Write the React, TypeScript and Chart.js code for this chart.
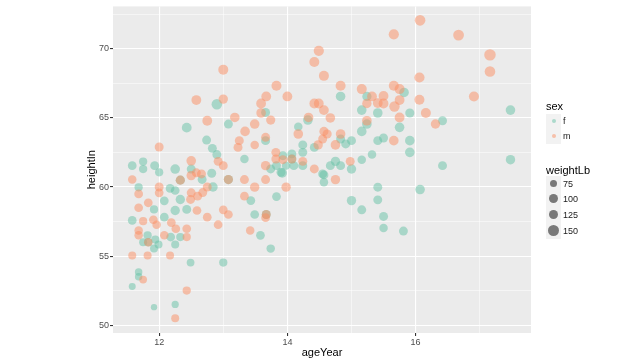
import React, { useEffect, useRef } from "react";
import { Chart, registerables } from "chart.js";

Chart.register(...registerables);

// ---- data ----
const fAge = [
  12.9, 12.43, 12.74, 12.83, 12.9, 11.58, 11.75, 11.75, 11.93, 12.0, 12.25, 12.5, 12.67, 12.82, 12.33,
  11.68, 12.17, 12.25, 12.08, 12.33, 12.84, 11.92, 12.25, 12.43, 11.58, 12.08, 11.82, 12.18, 12.33, 11.75,
  11.83, 11.94, 11.99, 11.92, 12.25, 12.49, 11.68, 11.68, 11.58, 11.92, 12.25,
  13.66, 13.08, 14.17, 14.32, 13.66, 14.24, 14.42, 14.24, 13.33, 13.93, 14.07, 14.07, 14.24, 14.1,
  13.74, 13.83, 13.98, 14.55, 13.9, 13.08, 13.92, 14.57, 14.57, 13.43, 13.83, 13.49, 13.67, 13.58, 13.74, 13.0,
  14.83, 15.82, 15.24, 15.16, 15.41, 15.91, 15.24, 15.16, 15.75, 14.83, 14.91, 15.0, 15.41, 15.5, 15.91,
  15.91, 15.32, 15.16, 14.75, 14.67, 14.83, 15.0, 15.41, 16.07, 15.0, 15.41, 15.16, 15.5, 15.5, 15.81,
  16.42, 17.48, 16.42, 17.48,
];
const fHeight = [
  66.0, 64.3, 63.4, 62.8, 62.35, 61.55, 61.84, 61.3, 61.55, 61.07, 61.3, 61.3, 60.55, 61.0, 60.5,
  59.98, 59.9, 59.75, 59.0, 59.1, 60.0, 58.38, 58.3, 58.38, 57.58, 57.82, 56.5, 56.38, 56.38, 56.0,
  56.0, 56.2, 55.83, 55.54, 55.83, 54.53, 53.85, 53.5, 52.8, 51.3, 51.5,
  65.4, 64.56, 64.37, 64.85, 63.36, 63.05, 62.87, 62.51, 62.03, 62.27, 62.4, 62.03, 61.55, 61.55,
  61.31, 61.55, 61.55, 60.95, 61.07, 60.54, 61.02, 60.88, 60.35, 59.02, 59.31, 58.01, 58.01, 56.5, 55.54, 54.53,
  66.56, 66.85, 66.56, 65.57, 65.36, 65.36, 64.56, 64.03, 64.32, 63.48, 63.12, 63.36, 63.36, 63.55, 63.36,
  62.51, 62.35, 61.98, 61.86, 61.55, 61.55, 61.31, 59.99, 59.82, 59.02, 59.07, 58.35, 57.87, 57.03, 56.81,
  61.55, 65.57, 64.8, 61.98,
];
const fWeight = [
  140, 120, 100, 100, 100, 95, 85, 85, 100, 85, 115, 100, 100, 100, 105,
  85, 95, 95, 95, 110, 110, 85, 110, 100, 95, 95, 85, 95, 85, 80,
  85, 85, 80, 80, 80, 75, 70, 70, 60, 50, 65,
  100, 100, 90, 115, 100, 100, 100, 100, 90, 100, 100, 100, 100, 100,
  100, 100, 90, 100, 100, 105, 110, 100, 90, 95, 95, 95, 100, 95, 90, 85,
  115, 115, 105, 115, 115, 105, 115, 115, 115, 100, 100, 100, 100, 100, 115,
  115, 90, 90, 110, 100, 100, 110, 100, 115, 110, 100, 100, 100, 90, 100,
  100, 115, 100, 110,
];

const mAge = [
  13.0, 12.58, 12.75, 12.0, 12.92, 12.5, 12.58, 12.5, 12.66, 11.58, 12.33, 12.0, 12.0, 11.68, 12.5,
  12.49, 12.6, 12.68, 12.75, 11.83, 11.68, 12.59, 12.75, 12.92, 11.75, 11.91, 11.96, 12.19, 12.26, 12.43,
  11.68, 11.68, 12.08, 12.43, 11.83, 11.58, 11.82, 12.17, 11.75, 12.43, 12.25,
  14.49, 14.42, 14.57, 13.83, 14.0, 13.67, 13.59, 14.42, 14.49, 14.57, 13.0, 13.59, 13.74, 13.18, 13.49,
  13.34, 14.33, 14.17, 14.57, 14.62, 13.25, 13.23, 13.49, 13.66, 14.48, 14.55, 13.82, 13.82, 14.07, 13.93,
  14.24, 13.66, 14.42, 13.0, 13.08, 13.33, 13.66, 13.49, 13.98, 13.33, 13.0, 13.08, 13.67, 13.66, 13.42,
  16.07, 15.66, 14.83, 15.16, 15.66, 15.75, 16.06, 15.32, 15.5, 15.41, 15.24, 15.5, 15.67, 15.75, 16.06,
  16.16, 15.75, 14.67, 15.24, 16.31, 14.83, 14.75, 15.66, 14.98, 14.75, 16.67, 17.16, 17.16, 16.91,
];
const mHeight = [
  68.5, 66.3, 64.8, 62.9, 61.86, 61.9, 61.03, 60.83, 60.95, 60.54, 60.5, 60.0, 59.58, 59.5, 59.58,
  59.1, 59.34, 59.6, 60.0, 58.86, 58.5, 58.3, 57.82, 57.27, 57.53, 57.63, 57.27, 57.42, 56.98, 56.98,
  56.86, 56.5, 56.5, 56.38, 56.0, 55.05, 55.05, 55.05, 53.3, 52.5, 50.5,
  69.86, 69.06, 68.05, 67.33, 66.56, 66.56, 66.05, 66.05, 66.05, 65.57, 66.37, 65.36, 64.85, 65.04, 64.56,
  64.03, 65.04, 63.84, 64.03, 63.84, 63.36, 62.87, 63.05, 63.6, 63.05, 63.48, 62.51, 62.03, 62.03, 61.98,
  61.86, 61.55, 61.31, 61.55, 60.54, 60.54, 60.54, 59.99, 59.99, 59.34, 58.35, 58.01, 58.01, 57.78, 56.86,
  72.07, 71.06, 67.33, 67.09, 67.33, 67.09, 67.93, 66.56, 66.6, 66.08, 66.05, 66.05, 65.83, 66.3, 66.32,
  65.36, 65.04, 65.0, 64.8, 64.56, 63.84, 63.05, 63.36, 61.86, 60.54, 71.0, 69.57, 68.36, 66.56,
];
const mWeight = [
  125, 120, 120, 100, 100, 115, 100, 110, 100, 90, 105, 100, 95, 95, 100,
  100, 100, 100, 100, 95, 95, 95, 95, 95, 85, 95, 90, 95, 95, 95,
  90, 90, 90, 85, 90, 80, 80, 80, 75, 85, 80,
  130, 125, 125, 125, 120, 120, 120, 120, 120, 120, 110, 115, 105, 115, 115,
  115, 115, 115, 105, 105, 100, 100, 90, 100, 110, 100, 100, 100, 100, 100,
  100, 110, 100, 100, 105, 100, 100, 110, 110, 95, 95, 95, 100, 95, 90,
  140, 130, 125, 125, 125, 125, 130, 120, 120, 120, 110, 120, 135, 120, 125,
  125, 120, 115, 115, 110, 115, 115, 115, 100, 110, 145, 165, 140, 125,
];

const xTicks = [12, 13, 14, 15, 16, 17];
const yTicks = [50, 52.5, 55, 57.5, 60, 62.5, 65, 67.5, 70, 72.5];
const sexLabels = ["f", "m"];
const sizeBreaks = [75, 100, 125, 150];

const COL_F = "rgba(102,194,165,0.5)";
const COL_M = "rgba(252,141,98,0.5)";
const FONT = "'Liberation Sans', Arial, Helvetica, sans-serif";
const rOf = (w: number) => 0.447 * Math.sqrt(w);

const bgPlugin = {
  id: "panelBg",
  beforeDraw(chart: any) {
    const { ctx, chartArea } = chart;
    ctx.save();
    ctx.fillStyle = "#EBEBEB";
    ctx.fillRect(chartArea.left, chartArea.top, chartArea.right - chartArea.left, chartArea.bottom - chartArea.top);
    ctx.restore();
  },
};

function build(ages: number[], hs: number[], ws: number[]) {
  return ages.map((a, i) => ({ x: a, y: hs[i], r: rOf(ws[i]) }));
}

export default function App() {
  const ref = useRef<HTMLCanvasElement | null>(null);
  useEffect(() => {
    if (!ref.current) return;
    const isMajorX = (v: number) => v % 2 === 0;
    const isMajorY = (v: number) => v % 5 === 0;
    const chart = new Chart(ref.current, {
      type: "bubble",
      data: {
        datasets: [
          { label: "m", data: build(mAge, mHeight, mWeight), backgroundColor: COL_M, borderWidth: 0, order: 0 } as any,
          { label: "f", data: build(fAge, fHeight, fWeight), backgroundColor: COL_F, borderWidth: 0, order: 1 } as any,
        ],
      },
      options: {
        responsive: false,
        animation: false,
        events: [],
        layout: { padding: { left: 0, right: 109, top: 5, bottom: 0 } },
        plugins: { legend: { display: false }, tooltip: { enabled: false } },
        scales: {
          x: {
            type: "linear",
            min: 11.28,
            max: 17.8,
            border: { display: false },
            afterBuildTicks: (s: any) => { s.ticks = xTicks.map((v) => ({ value: v })); },
            afterFit: (s: any) => { s.height = 27; },
            grid: {
              color: "#FFFFFF",
              lineWidth: (c: any) => (isMajorX(c.tick.value) ? 1.1 : 0.5),
              tickColor: (c: any) => (isMajorX(c.tick.value) ? "#333333" : "rgba(0,0,0,0)"),
              tickLength: 3,
            },
            ticks: {
              callback: (v: any) => (isMajorX(Number(v)) ? String(v) : ""),
              color: "#4D4D4D",
              font: { family: FONT, size: 9 },
              padding: 1,
              maxRotation: 0,
              autoSkip: false,
            },
            title: {
              display: true,
              text: "ageYear",
              color: "#000000",
              font: { family: FONT, size: 11 },
              padding: { top: 0, bottom: 0.5 },
            },
          },
          y: {
            type: "linear",
            min: 49.43,
            max: 73.08,
            border: { display: false },
            afterBuildTicks: (s: any) => { s.ticks = yTicks.map((v) => ({ value: v })); },
            afterFit: (s: any) => { s.width = 113; },
            grid: {
              color: "#FFFFFF",
              lineWidth: (c: any) => (isMajorY(c.tick.value) ? 1.1 : 0.5),
              tickColor: (c: any) => (isMajorY(c.tick.value) ? "#333333" : "rgba(0,0,0,0)"),
              tickLength: 3,
            },
            ticks: {
              callback: (v: any) => (isMajorY(Number(v)) ? String(v) : ""),
              color: "#4D4D4D",
              font: { family: FONT, size: 9 },
              padding: 1,
              autoSkip: false,
            },
            title: {
              display: true,
              text: "heightIn",
              color: "#000000",
              font: { family: FONT, size: 11 },
              padding: { top: 85, bottom: 0 },
            },
          },
        },
      } as any,
      plugins: [bgPlugin],
    });
    return () => chart.destroy();
  }, []);

  const keyBox = (top: number, h: number): React.CSSProperties => ({
    position: "absolute", left: 546, top, width: 15, height: h, background: "#F2F2F2",
  });
  const dot = (cx: number, cy: number, r: number, color: string): React.CSSProperties => ({
    position: "absolute", left: cx - r, top: cy - r, width: r * 2, height: r * 2, borderRadius: "50%", background: color,
  });
  const label = (top: number): React.CSSProperties => ({
    position: "absolute", left: 563, top: top - 6, height: 12, lineHeight: "12px", fontSize: 9, color: "#1A1A1A", fontFamily: FONT,
  });
  const sexY = [121, 136];
  const sizeY = [183.5, 198.5, 214.5, 230.5];
  const sizeKeyTop = [176, 191, 206, 222];
  const sizeKeyH = [15, 15, 16, 17];

  return (
    <div style={{ position: "fixed", left: 0, top: 0, width: 640, height: 360, background: "#FFFFFF" }}>
      <canvas ref={ref} width={640} height={360} style={{ position: "absolute", left: 0, top: 0 }} />
      <div style={{ position: "absolute", left: 546, top: 100, fontSize: 11, lineHeight: "13px", fontFamily: FONT, color: "#000" }}>sex</div>
      {sexLabels.map((s, i) => (
        <React.Fragment key={s}>
          <div style={keyBox(sexY[i] - 7.5, 15)} />
          <div style={dot(553.5, sexY[i], 2, i === 0 ? COL_F : COL_M)} />
          <div style={label(sexY[i])}>{s}</div>
        </React.Fragment>
      ))}
      <div style={{ position: "absolute", left: 546, top: 163.5, fontSize: 11, lineHeight: "13px", fontFamily: FONT, color: "#000" }}>weightLb</div>
      {sizeBreaks.map((w, i) => (
        <React.Fragment key={w}>
          <div style={keyBox(sizeKeyTop[i], sizeKeyH[i])} />
          <div style={dot(553.5, sizeY[i], rOf(w), "rgba(0,0,0,0.5)")} />
          <div style={label(sizeY[i])}>{w}</div>
        </React.Fragment>
      ))}
    </div>
  );
}
